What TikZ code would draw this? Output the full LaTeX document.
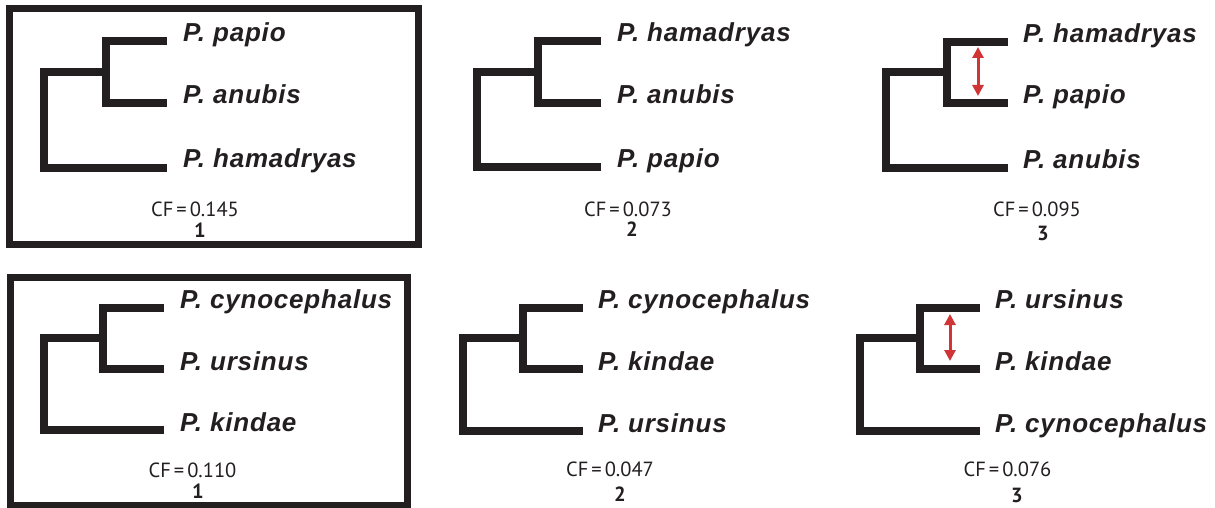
\documentclass[tikz,border=0pt]{standalone}
\usepackage{fontspec}
\usetikzlibrary{arrows.meta}
\newfontfamily\taxfont[LetterSpace=3]{Liberation Sans}
\newfontfamily\cffont{PT Sans}
\definecolor{treeblack}{RGB}{35,31,32}
\definecolor{arrowred}{RGB}{208,52,52}
\newcommand\cfsp{\kern3pt}
\begin{document}
\begin{tikzpicture}[x=1pt,y=-1pt,
  branch/.style={draw=treeblack, line width=8pt, line join=miter, line cap=butt},
  frame/.style={draw=treeblack, line width=7pt},
  taxon/.style={anchor=base west, inner sep=0pt, text=treeblack, font=\taxfont\fontsize{26}{26}\selectfont\bfseries\itshape},
  cf/.style={inner sep=0pt, text=treeblack, font=\cffont\fontsize{20.5}{20.5}\selectfont},
  num/.style={inner sep=0pt, text=treeblack, font=\cffont\fontsize{20.5}{20.5}\selectfont\bfseries},
  swaparrow/.style={draw=arrowred, line width=3pt, {Triangle[width=11pt,length=11pt]}-{Triangle[width=11pt,length=11pt]}}
]
\useasboundingbox (0,0) rectangle (1215,508);

% frames
\draw[frame] (9,9) rectangle (418.5,244);
\draw[frame] (10,277.5) rectangle (407.5,505.5);

% ---------- Panel A (top left) ----------
\coordinate (a1) at (167,41.5);
\coordinate (a2) at (167,103);
\coordinate (a3) at (167,167.5);
\coordinate (ain) at (106,72.25);
\coordinate (ar) at (44,72.25);
\draw[branch] (a1) -- (a1 -| ain) -- (a2 -| ain) -- (a2);
\draw[branch] (ain) -- (ar) -- (ar |- a3) -- (a3);
\node[taxon] (at1) at (183,42) {P. papio};
\node[taxon] (at2) at (183,104) {P. anubis};
\node[taxon] (at3) at (183,167) {P. hamadryas};
\node[cf] (acf) at (195,209) {CF\cfsp=\cfsp0.145};
\node[num] (anum) at (200,230) {1};

% ---------- Panel B (top middle) ----------
\coordinate (b1) at (601,41.5);
\coordinate (b2) at (601,103);
\coordinate (b3) at (601,167);
\coordinate (bin) at (538,72.25);
\coordinate (br) at (477,72.25);
\draw[branch] (b1) -- (b1 -| bin) -- (b2 -| bin) -- (b2);
\draw[branch] (bin) -- (br) -- (br |- b3) -- (b3);
\node[taxon] (bt1) at (617,42) {P. hamadryas};
\node[taxon] (bt2) at (617,104) {P. anubis};
\node[taxon] (bt3) at (617,167) {P. papio};
\node[cf] (bcf) at (628,209) {CF\cfsp=\cfsp0.073};
\node[num] (bnum) at (632,229) {2};

% ---------- Panel C (top right) ----------
\coordinate (c1) at (1008,42);
\coordinate (c2) at (1008,103);
\coordinate (c3) at (1008,168);
\coordinate (cin) at (947,72.5);
\coordinate (cr) at (886,72.5);
\draw[branch] (c1) -- (c1 -| cin) -- (c2 -| cin) -- (c2);
\draw[branch] (cin) -- (cr) -- (cr |- c3) -- (c3);
\node[taxon] (ct1) at (1023,42.5) {P. hamadryas};
\node[taxon] (ct2) at (1023,104) {P. papio};
\node[taxon] (ct3) at (1023,168) {P. anubis};
\coordinate (cup) at (978,47);
\coordinate (cdn) at (978,96);
\draw[swaparrow] (cup) -- (cdn);
\node[cf] (ccf) at (1037,209) {CF\cfsp=\cfsp0.095};
\node[num] (cnum) at (1043,233) {3};

% ---------- Panel D (bottom left) ----------
\coordinate (d1) at (164,307.5);
\coordinate (d2) at (164,369);
\coordinate (d3) at (164,430);
\coordinate (din) at (103,338.25);
\coordinate (dr) at (44,338.25);
\draw[branch] (d1) -- (d1 -| din) -- (d2 -| din) -- (d2);
\draw[branch] (din) -- (dr) -- (dr |- d3) -- (d3);
\node[taxon] (dt1) at (180,308) {P. cynocephalus};
\node[taxon] (dt2) at (180,370) {P. ursinus};
\node[taxon] (dt3) at (180,431) {P. kindae};
\node[cf] (dcf) at (192.5,470) {CF\cfsp=\cfsp0.110};
\node[num] (dnum) at (198,491) {1};

% ---------- Panel E (bottom middle) ----------
\coordinate (e1) at (583,307.5);
\coordinate (e2) at (583,369);
\coordinate (e3) at (583,431);
\coordinate (ein) at (523,338.25);
\coordinate (er) at (463,338.25);
\draw[branch] (e1) -- (e1 -| ein) -- (e2 -| ein) -- (e2);
\draw[branch] (ein) -- (er) -- (er |- e3) -- (e3);
\node[taxon] (et1) at (598,308) {P. cynocephalus};
\node[taxon] (et2) at (598,370) {P. kindae};
\node[taxon] (et3) at (598,432) {P. ursinus};
\node[cf] (ecf) at (610,469) {CF\cfsp=\cfsp0.047};
\node[num] (enum) at (620,494) {2};

% ---------- Panel F (bottom right) ----------
\coordinate (f1) at (980,307.5);
\coordinate (f2) at (980,369);
\coordinate (f3) at (980,431);
\coordinate (fin) at (920,338.25);
\coordinate (fr) at (860,338.25);
\draw[branch] (f1) -- (f1 -| fin) -- (f2 -| fin) -- (f2);
\draw[branch] (fin) -- (fr) -- (fr |- f3) -- (f3);
\node[taxon] (ft1) at (995,308) {P. ursinus};
\node[taxon] (ft2) at (995,370) {P. kindae};
\node[taxon] (ft3) at (995,432) {P. cynocephalus};
\coordinate (fup) at (950,314);
\coordinate (fdn) at (950,361);
\draw[swaparrow] (fup) -- (fdn);
\node[cf] (fcf) at (1007.5,469) {CF\cfsp=\cfsp0.076};
\node[num] (fnum) at (1017,495) {3};
\end{tikzpicture}
\end{document}
